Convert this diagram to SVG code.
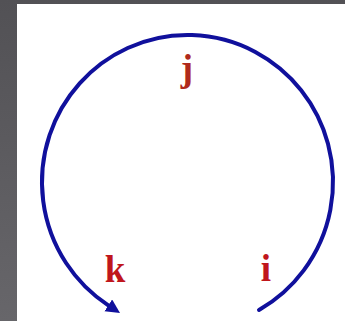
<svg xmlns="http://www.w3.org/2000/svg" width="345" height="321" viewBox="0 0 345 321">
  <defs>
    <linearGradient id="bg" x1="0" y1="0" x2="0" y2="1">
      <stop offset="0" stop-color="#525155"/>
      <stop offset="1" stop-color="#67666a"/>
    </linearGradient>
    <marker id="arrow" markerUnits="userSpaceOnUse" markerWidth="18" markerHeight="16" refX="0" refY="7" orient="auto">
      <path d="M0,0 L14,7 L0,14 z" fill="#10109c"/>
    </marker>
    <style>
      .lbl { font-family: "Liberation Serif", "Times New Roman", serif; font-weight: bold; font-size: 37px; fill: #c0161c; }
      .arc { fill: none; stroke: #10109c; stroke-width: 4; stroke-linecap: round; }
    </style>
  </defs>
  <rect x="0" y="0" width="345" height="321" fill="url(#bg)"/>
  <rect x="17" y="4" width="328" height="317" fill="#ffffff"/>
  <g id="connectors">
    <path class="arc" d="M 259 310 A 145.5 147 0 1 0 108.3 305.3" marker-end="url(#arrow)"/>
  </g>
  <g id="label-j"><text class="lbl" x="187" y="81" text-anchor="middle" style="fill:#b02a1c">j</text></g>
  <g id="label-k"><text class="lbl" x="115" y="282" text-anchor="middle">k</text></g>
  <g id="label-i"><text class="lbl" x="266" y="281" text-anchor="middle">i</text></g>
</svg>
